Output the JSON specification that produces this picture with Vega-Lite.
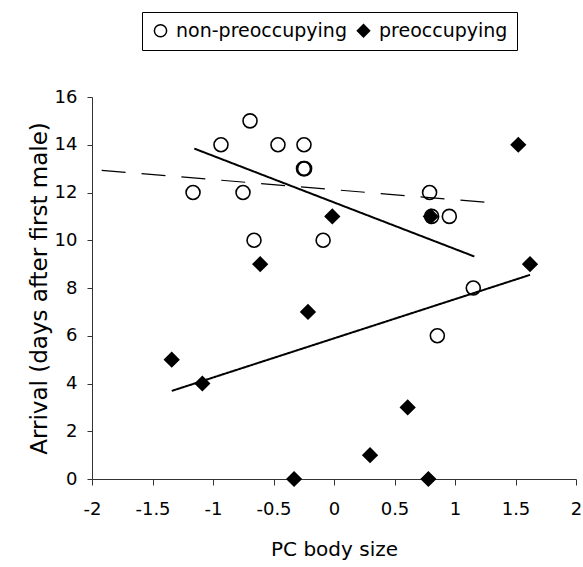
{
  "$schema": "https://vega.github.io/schema/vega-lite/v6.json",
  "width": 484,
  "height": 382,
  "autosize": {"type": "none"},
  "padding": {"left": 92, "top": 97, "right": 7, "bottom": 88},
  "background": "white",
  "config": {
    "view": {"stroke": null},
    "font": "DejaVu Sans",
    "axis": {
      "grid": false,
      "domainColor": "#333333",
      "tickColor": "#333333",
      "labelColor": "black",
      "titleColor": "black",
      "labelFont": "DejaVu Sans",
      "titleFont": "DejaVu Sans",
      "labelFontSize": 18,
      "titleFontSize": 20,
      "titleFontWeight": "normal"
    },
    "legend": {
      "labelFont": "DejaVu Sans",
      "labelFontSize": 19,
      "labelColor": "black",
      "labelLimit": 400
    }
  },
  "datasets": {
    "points": [
      {"group": "non-preoccupying", "size": -1.165, "arrival": 12},
      {"group": "non-preoccupying", "size": -0.934, "arrival": 14},
      {"group": "non-preoccupying", "size": -0.694, "arrival": 15},
      {"group": "non-preoccupying", "size": -0.752, "arrival": 12},
      {"group": "non-preoccupying", "size": -0.661, "arrival": 10},
      {"group": "non-preoccupying", "size": -0.463, "arrival": 14},
      {"group": "non-preoccupying", "size": -0.248, "arrival": 14},
      {"group": "non-preoccupying", "size": -0.252, "arrival": 13},
      {"group": "non-preoccupying", "size": -0.243, "arrival": 13},
      {"group": "non-preoccupying", "size": -0.09, "arrival": 10},
      {"group": "non-preoccupying", "size": 0.79, "arrival": 12},
      {"group": "non-preoccupying", "size": 0.807, "arrival": 11},
      {"group": "non-preoccupying", "size": 0.953, "arrival": 11},
      {"group": "non-preoccupying", "size": 1.151, "arrival": 8},
      {"group": "non-preoccupying", "size": 0.854, "arrival": 6},
      {"group": "preoccupying", "size": -1.341, "arrival": 5},
      {"group": "preoccupying", "size": -1.088, "arrival": 4},
      {"group": "preoccupying", "size": -0.61, "arrival": 9},
      {"group": "preoccupying", "size": -0.215, "arrival": 7},
      {"group": "preoccupying", "size": -0.33, "arrival": 0},
      {"group": "preoccupying", "size": -0.014, "arrival": 11},
      {"group": "preoccupying", "size": 0.298, "arrival": 1},
      {"group": "preoccupying", "size": 0.609, "arrival": 3},
      {"group": "preoccupying", "size": 0.78, "arrival": 0},
      {"group": "preoccupying", "size": 0.8, "arrival": 11},
      {"group": "preoccupying", "size": 1.523, "arrival": 14},
      {"group": "preoccupying", "size": 1.62, "arrival": 9}
    ],
    "lines": [
      {"fit": "non-preoccupying", "style": "solid", "x1": -1.155, "y1": 13.84, "x2": 1.16, "y2": 9.32},
      {"fit": "preoccupying", "style": "solid", "x1": -1.341, "y1": 3.69, "x2": 1.62, "y2": 8.55},
      {"fit": "all", "style": "dashed", "x1": -1.92, "y1": 12.93, "x2": 1.25, "y2": 11.59}
    ]
  },
  "layer": [
    {
      "data": {"name": "lines"},
      "mark": {"type": "rule", "color": "black"},
      "encoding": {
        "x": {
          "field": "x1", "type": "quantitative",
          "scale": {"domain": [-2, 2], "nice": false, "zero": false},
          "axis": {
            "title": "PC body size",
            "values": [-2, -1.5, -1, -0.5, 0, 0.5, 1, 1.5, 2],
            "labelExpr": "toString(datum.value)",
            "tickSize": 6,
            "labelPadding": 15,
            "titlePadding": 21,
            "labelFlush": false,
            "labelOverlap": false
          }
        },
        "y": {
          "field": "y1", "type": "quantitative",
          "scale": {"domain": [0, 16], "nice": false},
          "axis": {
            "title": "Arrival (days after first male)",
            "titleFontSize": 23,
            "values": [0, 2, 4, 6, 8, 10, 12, 14, 16],
            "tickSize": 5,
            "labelPadding": 10,
            "titlePadding": 3,
            "labelFlush": false,
            "labelOverlap": false
          }
        },
        "x2": {"field": "x2"},
        "y2": {"field": "y2"},
        "strokeDash": {
          "field": "style", "type": "nominal",
          "scale": {"domain": ["solid", "dashed"], "range": [[1, 0], [24, 16]]},
          "legend": null
        },
        "strokeWidth": {
          "field": "style", "type": "nominal",
          "scale": {"domain": ["solid", "dashed"], "range": [2, 1.2]},
          "legend": null
        }
      }
    },
    {
      "data": {"name": "points"},
      "mark": {"type": "point", "filled": true, "stroke": "black", "strokeWidth": 1.6, "opacity": 1, "size": 195},
      "encoding": {
        "x": {"field": "size", "type": "quantitative"},
        "y": {"field": "arrival", "type": "quantitative"},
        "shape": {
          "field": "group", "type": "nominal",
          "scale": {"domain": ["non-preoccupying", "preoccupying"], "range": ["circle", "diamond"]},
          "legend": {
            "title": null,
            "orient": "none",
            "legendX": 50,
            "legendY": -85,
            "direction": "horizontal",
            "strokeColor": "black",
            "fillColor": "white",
            "padding": 9,
            "labelOffset": 6,
            "columnPadding": 7,
            "symbolSize": 150,
            "encode": {
              "symbols": {
                "update": {
                  "stroke": {"value": "black"},
                  "strokeWidth": {"value": 1.3},
                  "fill": {"signal": "datum.value === 'preoccupying' ? 'black' : 'white'"},
                  "size": {"signal": "datum.value === 'preoccupying' ? 150 : 75"}
                }
              }
            }
          }
        },
        "fill": {
          "field": "group", "type": "nominal",
          "scale": {"domain": ["non-preoccupying", "preoccupying"], "range": ["transparent", "black"]},
          "legend": {
            "title": null,
            "orient": "none",
            "legendX": 50,
            "legendY": -85,
            "direction": "horizontal",
            "strokeColor": "black",
            "fillColor": "white",
            "padding": 9,
            "labelOffset": 6,
            "columnPadding": 7,
            "symbolSize": 150,
            "encode": {
              "symbols": {
                "update": {
                  "stroke": {"value": "black"},
                  "strokeWidth": {"value": 1.3},
                  "fill": {"signal": "datum.value === 'preoccupying' ? 'black' : 'white'"},
                  "size": {"signal": "datum.value === 'preoccupying' ? 150 : 75"}
                }
              }
            }
          }
        }
      }
    }
  ]
}
